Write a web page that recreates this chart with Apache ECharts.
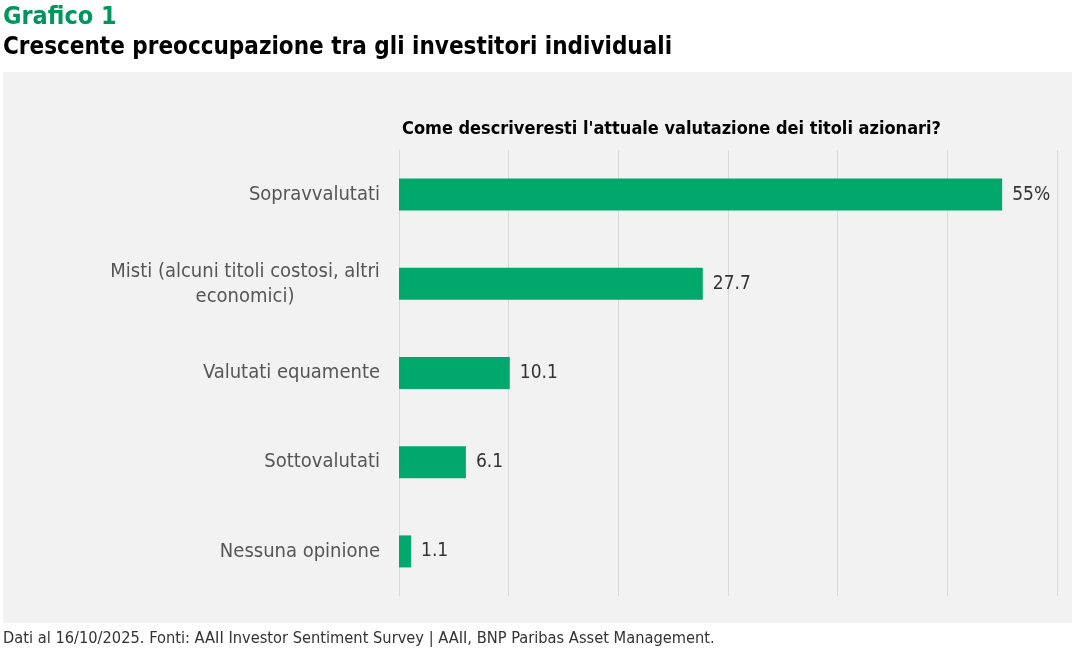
<!DOCTYPE html>
<html><head><meta charset="utf-8">
<script src="https://cdn.jsdelivr.net/npm/echarts@6/dist/echarts.min.js"></script>
<style>html,body{margin:0;padding:0;background:#fff}#c{width:1073px;height:653px}</style>
</head><body><div id="c"></div>
<script>
const categories = ["Sopravvalutati", "Misti (alcuni titoli costosi, altri\neconomici)", "Valutati equamente", "Sottovalutati", "Nessuna opinione"];
const values = [55, 27.7, 10.1, 6.1, 1.1];
const valueLabels = ["55%", "27.7", "10.1", "6.1", "1.1"];
const F = '"Liberation Sans Narrow", "DejaVu Sans Condensed", Roboto, sans-serif';
const chart = echarts.init(document.getElementById('c'));
chart.setOption({
  backgroundColor: '#ffffff',
  animation: false,
  graphic: [{ type: 'rect', z: -10, shape: { x: 3, y: 72, width: 1069, height: 551 }, style: { fill: '#f2f2f2' } }],
  title: [
    { text: 'Grafico 1', left: 3, top: 5, padding: 0, textStyle: { fontFamily: F, fontSize: 25, fontWeight: 'bold', color: '#00965e' } },
    { text: 'Crescente preoccupazione tra gli investitori individuali', left: 3, top: 36, padding: 0, textStyle: { fontFamily: F, fontSize: 24, fontWeight: 'bold', color: '#000' } },
    { text: "Come descriveresti l'attuale valutazione dei titoli azionari?", left: 402, top: 120, padding: 0, textStyle: { fontFamily: F, fontSize: 18, fontWeight: 'bold', color: '#000' } },
    { text: 'Dati al 16/10/2025. Fonti: AAII Investor Sentiment Survey | AAII, BNP Paribas Asset Management.', left: 3, top: 631, padding: 0, textStyle: { fontFamily: F, fontSize: 16.3, fontWeight: 'normal', color: '#333' } }
  ],
  grid: { left: 399, right: 16, top: 150, bottom: 57, containLabel: false },
  xAxis: {
    type: 'value', min: 0, max: 60, interval: 10,
    axisLabel: { show: false }, axisLine: { show: false }, axisTick: { show: false },
    splitLine: { show: true, lineStyle: { color: '#d9d9d9', width: 1 } }
  },
  yAxis: {
    type: 'category', data: categories, inverse: true,
    axisLine: { show: true, lineStyle: { color: '#d9d9d9' } }, axisTick: { show: false },
    axisLabel: {
      fontFamily: F, fontSize: 20, color: '#555', margin: 19, align: 'right', lineHeight: 25,
      formatter: v => v.indexOf('\n') >= 0 ? v.split('\n').map(s => '{m|' + s + '}').join('\n') : v,
      rich: { m: { fontFamily: F, fontSize: 20, color: '#555', lineHeight: 25, width: 270, align: 'center' } }
    }
  },
  series: [{
    type: 'bar', data: values, barWidth: 32,
    itemStyle: { color: '#00a86b' },
    label: { show: true, position: 'right', distance: 10, fontFamily: F, fontSize: 19, color: '#333',
      formatter: p => valueLabels[p.dataIndex] }
  }]
});
</script></body></html>
